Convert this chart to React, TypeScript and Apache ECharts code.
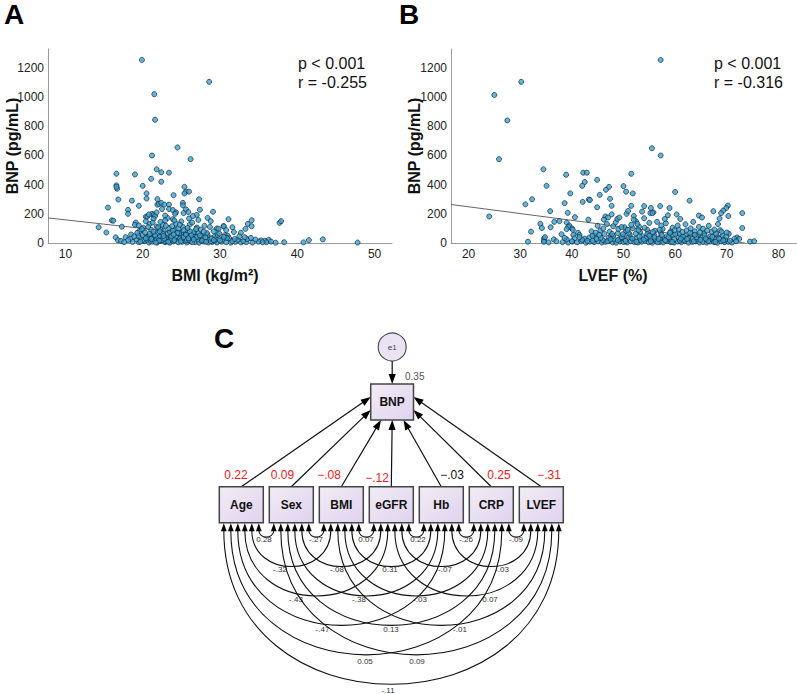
import React, { useEffect, useRef } from "react";
import * as echarts from "echarts";

// ---------- Panel A / B data ----------
const yTicks = [0, 200, 400, 600, 800, 1000, 1200];
const bmiTicks = [10, 20, 30, 40, 50];
const lvefTicks = [20, 30, 40, 50, 60, 70, 80];

const bmiBnpSparse: [number, number][] = [
  [19.9, 1255], [28.6, 1105], [21.5, 1020], [21.6, 845], [24.5, 655], [21.2, 600], [26.2, 575],
  [16.6, 475], [19.0, 470], [21.8, 505], [22.4, 485], [23.4, 482], [21.1, 440], [22.4, 420],
  [16.6, 395], [16.7, 372], [16.6, 385], [20.0, 392], [25.4, 385], [25.6, 352], [26.0, 352], [25.4, 340],
  [20.5, 340], [20.5, 305], [24.0, 328], [16.85, 298], [18.6, 290], [27.3, 300], [21.9, 301],
  [15.5, 243], [18.1, 227], [18.1, 200], [19.5, 255], [25.2, 275], [25.2, 258], [16.0, 155], [16.2, 153],
  [14.3, 108], [15.3, 72], [16.5, 39], [16.8, 19], [17.3, 112], [17.8, 40], [18.5, 58], [19.1, 140], [19.0, 125],
  [20.4, 180], [20.6, 180], [21.2, 200], [21.4, 192], [21.6, 185], [21.9, 263], [22.1, 268], [22.4, 275],
  [22.5, 233], [22.8, 263], [23.4, 263], [23.4, 233], [23.9, 226], [24.3, 210], [23.9, 163], [25.6, 230],
  [25.9, 212], [27.4, 228], [27.0, 192], [29.1, 214], [28.4, 172], [28.8, 150], [30.45, 115], [29.6, 100],
  [31.1, 163], [34.1, 156], [33.6, 131], [34.1, 115], [30.5, 115], [31.6, 108], [32.7, 70], [33.3, 97], [29.8, 97],
  [37.7, 138], [37.9, 150], [43.3, 25], [41.5, 20], [40.8, 4], [38.3, 5], [47.8, 3], [36.3, 22], [35.8, 15], [35.3, 18], [31.0, 50],
];
const bmiBnpDense: [number, number][] = [
  [18.7, 8], [19.5, 5], [20.2, 12], [20.8, 3], [21.3, 9], [21.9, 4], [22.4, 14], [22.9, 6], [23.5, 2], [24.0, 11],
  [24.6, 5], [25.1, 8], [25.7, 3], [26.2, 12], [26.8, 6], [27.3, 2], [27.9, 10], [28.5, 4], [29.0, 7], [29.6, 3],
  [30.2, 9], [30.8, 5], [31.4, 2], [32.0, 8], [32.7, 4], [33.4, 6], [34.2, 3], [35.0, 9], [36.0, 5], [37.2, 2],
  [17.2, 14], [21.0, 15], [23.0, 13], [25.5, 15], [27.6, 14], [29.3, 15],
  [18.4, 30], [19.2, 25], [19.8, 34], [20.5, 22], [21.2, 36], [21.8, 27], [22.5, 20], [23.1, 33], [23.8, 24], [24.4, 38],
  [25.0, 28], [25.7, 21], [26.4, 35], [27.1, 26], [27.8, 31], [28.6, 22], [29.4, 29], [30.3, 24], [31.2, 33], [32.3, 21],
  [33.5, 27], [34.6, 24], [22.0, 38], [24.8, 34], [26.9, 38],
  [19.4, 48], [20.0, 55], [20.7, 44], [21.5, 60], [22.2, 50], [22.9, 42], [23.6, 58], [24.3, 46], [25.1, 53], [25.9, 44],
  [26.7, 61], [27.6, 48], [28.4, 56], [29.3, 45], [30.6, 52], [23.2, 62], [25.4, 62], [21.0, 47],
  [19.6, 82], [20.3, 72], [21.1, 90], [21.9, 68], [22.7, 85], [23.5, 76], [24.2, 93], [25.0, 70], [25.8, 88], [26.6, 74],
  [27.5, 92], [28.3, 68], [29.2, 80], [31.8, 75], [22.3, 95], [24.7, 66], [26.1, 80],
  [19.5, 120], [20.1, 105], [20.9, 130], [21.8, 112], [22.6, 125], [23.4, 102], [24.3, 132], [25.2, 110], [26.1, 128],
  [27.0, 106], [28.0, 118], [23.0, 118], [25.8, 103],
  [20.4, 150], [21.4, 165], [22.3, 145], [23.2, 172], [24.1, 155], [25.0, 148], [26.0, 168], [27.2, 158],
  [20.8, 195], [21.8, 210], [22.9, 188], [24.2, 200], [25.3, 205], [26.5, 185],
];
const bmiBnpDense2: [number, number][] = [
  [20.0, 18], [20.6, 40], [21.1, 28], [21.6, 52], [22.1, 16], [22.6, 64], [23.0, 36], [23.3, 8], [23.7, 45], [24.1, 20],
  [24.5, 70], [24.9, 12], [25.3, 40], [25.6, 57], [26.0, 19], [26.4, 6], [26.8, 44], [27.2, 66], [27.7, 18], [28.1, 38],
  [28.8, 12], [29.7, 55], [30.0, 17], [30.9, 35], [31.6, 12], [32.5, 45], [33.0, 14], [34.0, 35], [35.5, 5], [36.6, 10],
  [19.9, 95], [20.9, 62], [21.4, 78], [22.0, 108], [22.8, 30], [23.9, 85], [24.6, 100], [25.3, 88], [26.3, 52], [27.0, 40],
  [27.9, 78], [28.9, 30], [29.9, 65], [30.8, 88], [19.7, 10], [20.4, 32], [21.7, 3], [22.7, 48], [24.0, 58], [25.9, 32],
  [26.6, 25], [27.4, 52], [28.2, 8], [29.2, 20], [30.5, 42], [31.9, 28], [33.2, 40], [22.2, 80], [23.8, 115], [21.3, 140],
  [24.8, 125], [26.9, 95], [20.7, 110], [22.9, 155], [28.7, 110], [19.3, 70], [18.9, 45], [18.1, 20], [17.6, 6], [26.4, 140],
];
const bmiFit: [number, number][] = [[7.75, 172], [36.9, 0]];

const lvefBnpSparse: [number, number][] = [
  [30.2, 1105], [25.0, 1015], [27.5, 840], [25.9, 575], [24.0, 182], [34.5, 505], [35.1, 392], [38.9, 468],
  [42.2, 482], [42.9, 482], [42.5, 418], [42.0, 392], [39.7, 340], [44.9, 433], [43.3, 298], [43.5, 295],
  [42.1, 282], [38.6, 273], [31.0, 265], [32.3, 300], [35.8, 218], [39.2, 207], [40.6, 177], [32.1, 78],
  [31.5, 9], [33.9, 131], [34.2, 103], [35.9, 108], [36.6, 145], [37.6, 150], [43.2, 160], [45.4, 330],
  [46.6, 365], [47.2, 385], [47.4, 303], [44.9, 245], [47.7, 255], [46.5, 182], [47.7, 196], [50.0, 390],
  [45.0, 118], [57.2, 1255], [55.5, 650], [57.2, 600], [51.5, 475], [50.5, 352], [51.8, 340], [60.0, 350],
  [62.8, 290], [51.5, 255], [54.0, 253], [55.3, 240], [57.1, 253], [58.9, 240], [60.3, 196], [64.6, 188],
  [65.2, 175], [67.4, 218], [70.2, 257], [69.9, 240], [69.3, 222], [68.9, 205], [68.6, 168], [68.3, 130],
  [70.3, 185], [73.0, 205], [73.0, 103], [72.0, 38], [72.4, 28], [74.5, 10], [75.3, 12],
  [39.0, 140], [39.5, 120], [40.0, 100], [40.2, 90], [39.3, 110], [34.6, 30], [34.6, 15],
  [34.8, 40], [36.5, 25], [38.0, 60], [39.0, 95], [40.3, 55], [41.2, 70], [42.5, 30], [43.8, 80], [44.5, 50],
];
const lvefBnpDense: [number, number][] = [
  [34.6, 8], [35.5, 4], [37.0, 12], [38.2, 6], [39.3, 3], [40.1, 10], [41.0, 5], [41.8, 14], [42.7, 2], [43.5, 9],
  [44.3, 6], [45.1, 11], [45.8, 3], [46.5, 8], [47.2, 13], [47.9, 5], [48.6, 2], [49.3, 10], [50.0, 7], [50.7, 4],
  [51.4, 12], [52.1, 6], [52.8, 3], [53.5, 9], [54.2, 15], [54.9, 5], [55.6, 2], [56.3, 11], [57.0, 7], [57.7, 4],
  [58.4, 13], [59.1, 6], [59.8, 3], [60.5, 10], [61.2, 5], [61.9, 14], [62.6, 2], [63.3, 8], [64.0, 12], [64.7, 4],
  [65.4, 7], [66.1, 3], [66.8, 10], [67.5, 6], [68.2, 2], [68.9, 11], [69.6, 5], [70.3, 8], [71.0, 3],
  [39.0, 25], [40.5, 32], [42.0, 22], [43.4, 38], [44.8, 28], [46.0, 20], [47.1, 35], [48.2, 26], [49.3, 31], [50.3, 23],
  [51.3, 39], [52.3, 27], [53.3, 21], [54.3, 34], [55.3, 29], [56.2, 24], [57.1, 37], [58.0, 22], [58.9, 30], [59.8, 26],
  [60.7, 36], [61.6, 21], [62.5, 33], [63.4, 28], [64.3, 24], [65.2, 38], [66.1, 23], [67.0, 31], [67.9, 27], [68.8, 35],
  [69.7, 22], [71.5, 30],
  [41.5, 55], [44.0, 48], [46.3, 62], [47.6, 50], [48.9, 68], [50.1, 45], [51.2, 58], [52.4, 65], [53.6, 47], [54.8, 60],
  [56.0, 52], [57.2, 70], [58.4, 46], [59.6, 57], [60.8, 64], [62.0, 49], [63.2, 61], [64.4, 53], [65.6, 67], [66.8, 46],
  [68.0, 58], [69.2, 50], [70.4, 63],
  [45.5, 85], [47.3, 78], [49.0, 95], [50.5, 82], [51.8, 100], [53.2, 76], [54.6, 90], [56.1, 84], [57.6, 97], [59.1, 79],
  [60.7, 92], [62.2, 86], [63.8, 80], [65.4, 98], [67.1, 77], [68.7, 88],
  [46.8, 130], [48.0, 115], [48.5, 142], [50.2, 108], [51.5, 125], [52.4, 150], [53.0, 112], [55.0, 138], [57.3, 120],
  [59.5, 105], [62.0, 128], [64.6, 110], [66.5, 118],
  [47.0, 175], [48.8, 165], [50.6, 200], [52.0, 185], [54.0, 170], [55.8, 210], [58.6, 190], [61.0, 165], [50.9, 220],
  [46.2, 160], [55.2, 205], [55.6, 205], [53.6, 215],
];
const lvefBnpDense2: [number, number][] = [
  [44.0, 15], [45.6, 35], [46.9, 12], [48.0, 48], [48.9, 20], [49.7, 40], [50.4, 14], [51.0, 70], [51.7, 30], [52.5, 8],
  [53.1, 45], [53.9, 24], [54.6, 62], [55.3, 12], [56.0, 38], [56.6, 5], [57.4, 55], [58.1, 18], [58.7, 40], [59.4, 8],
  [60.0, 62], [60.9, 16], [61.5, 44], [62.3, 27], [62.9, 70], [63.6, 12], [64.1, 40], [64.9, 22], [65.7, 52], [66.4, 14],
  [67.2, 42], [67.8, 8], [68.5, 30], [69.3, 18], [69.9, 45], [70.6, 16],
  [46.1, 100], [47.8, 62], [49.6, 110], [50.8, 90], [52.7, 130], [54.1, 105], [55.7, 75], [57.0, 90], [58.2, 135], [59.9, 88],
  [61.4, 75], [63.0, 100], [64.8, 72], [66.2, 85], [67.9, 65], [69.0, 78], [44.6, 70], [43.0, 15], [41.5, 40], [40.0, 12],
  [38.6, 35], [45.3, 55], [47.5, 25], [49.9, 60], [52.9, 88], [55.0, 50], [56.8, 28], [59.0, 70], [61.1, 30], [63.8, 56],
  [65.9, 30], [67.6, 92], [70.0, 72], [71.8, 12], [52.0, 160], [56.5, 145], [49.2, 175], [60.5, 120], [63.5, 145], [58.0, 165],
];
const lvefFit: [number, number][] = [[16.6, 264], [73.5, 0]];

const statsA = ["p < 0.001", "r = -0.255"];
const statsB = ["p < 0.001", "r = -0.316"];

// ---------- Panel C data ----------
const semVars = ["Age", "Sex", "BMI", "eGFR", "Hb", "CRP", "LVEF"];
const semPathCoef = ["0.22", "0.09", "\u2212.08", "\u2212.12", "\u2212.03", "0.25", "\u2212.31"];
const semPathSignificant = [true, true, true, true, false, true, true];
const semOutcome = "BNP";
const semError = "e1";
const semR2 = "0.35";
const semCov: [number, number, string][] = [
  [0, 1, "0.28"], [1, 2, "-.27"], [2, 3, "0.07"], [3, 4, "0.22"], [4, 5, "-.26"], [5, 6, "-.09"],
  [0, 2, "-.32"], [1, 3, "-.08"], [2, 4, "0.31"], [3, 5, "-.07"], [4, 6, "-.03"],
  [0, 3, "-.43"], [1, 4, "-.38"], [2, 5, "-.03"], [3, 6, "0.07"],
  [0, 4, "-.47"], [1, 5, "0.13"], [2, 6, "-.01"],
  [0, 5, "0.05"], [1, 6, "0.09"],
  [0, 6, "-.11"],
];

// ---------- Panel C layout (positions only) ----------
const BOX_X0 = 219.3;
const BOX_PITCH = 50;
const BOX_W = 44;
const BOX_TOP = 486.7;
const BOX_H = 36;
const BNP_BOX = { x: 370.7, y: 384, w: 42.8, h: 36 };
const E1 = { cx: 392.2, cy: 347, r: 14 };
const pathTips: [number, number][] = [
  [370.7, 397], [370.7, 410], [381, 420], [392.2, 420], [403.5, 420], [413.5, 410], [413.5, 397],
];
const pathLabelPos: [number, number][] = [
  [236, 474.5], [282.5, 474.5], [329, 474.5], [377, 478], [452, 474.5], [499, 474.5], [549, 474.5],
];
const covLabelPos: [number, number][] = [
  [264, 539.5], [316, 539.5], [366, 539.5], [418, 539.5], [466, 539.5], [516, 539.5],
  [280, 569.5], [337, 569.5], [390, 569.5], [445, 569.5], [502, 569.5],
  [296, 599.5], [359, 599.5], [420, 599.5], [490, 599.5],
  [322.5, 629.5], [391, 629.5], [460, 629.5],
  [365, 661], [417, 661],
  [388, 690],
];

const FONT = 'Arial, "Liberation Sans", Helvetica, sans-serif';

function txt(x: number, y: number, text: string, font: string, fill: string, align = "center", rotation = 0): any {
  return {
    type: "text",
    x,
    y,
    rotation,
    silent: true,
    style: {
      text,
      font,
      fill,
      textAlign: align,
      textVerticalAlign: "middle",
      align,
      verticalAlign: "middle",
    },
  };
}

function arrowHead(tipX: number, tipY: number, fromX: number, fromY: number, len: number, hw: number): any {
  const dx = tipX - fromX;
  const dy = tipY - fromY;
  const d = Math.hypot(dx, dy);
  const ux = dx / d;
  const uy = dy / d;
  const bx = tipX - ux * len;
  const by = tipY - uy * len;
  return {
    type: "polygon",
    silent: true,
    shape: { points: [[tipX, tipY], [bx - uy * hw, by + ux * hw], [bx + uy * hw, by - ux * hw]] },
    style: { fill: "#000" },
  };
}

function buildDiagram(): any[] {
  const els: any[] = [];
  const boxFill = new echarts.graphic.LinearGradient(0, 0, 1, 1, [
    { offset: 0, color: "#f1ecf5" },
    { offset: 1, color: "#e0d3ee" },
  ]);
  // structural paths
  semVars.forEach((_, i) => {
    const sx = BOX_X0 + i * BOX_PITCH + BOX_W / 2;
    const sy = BOX_TOP;
    const [tx, ty] = pathTips[i];
    const dx = tx - sx, dy = ty - sy;
    const d = Math.hypot(dx, dy);
    els.push({
      type: "line",
      silent: true,
      shape: { x1: sx, y1: sy, x2: tx - (dx / d) * 8, y2: ty - (dy / d) * 8 },
      style: { stroke: "#111", lineWidth: 1.2 },
    });
    els.push(arrowHead(tx, ty, sx, sy, 10, 3.6));
    els.push(
      txt(pathLabelPos[i][0], pathLabelPos[i][1], semPathCoef[i], `12px ${FONT}`, semPathSignificant[i] ? "#ee1b22" : "#111")
    );
  });
  // e1 -> BNP
  els.push({
    type: "line",
    silent: true,
    shape: { x1: E1.cx, y1: E1.cy + E1.r, x2: E1.cx, y2: BNP_BOX.y - 8 },
    style: { stroke: "#111", lineWidth: 1.2 },
  });
  els.push(arrowHead(E1.cx, BNP_BOX.y, E1.cx, E1.cy, 10, 3.6));
  els.push({
    type: "circle",
    silent: true,
    shape: { cx: E1.cx, cy: E1.cy, r: E1.r },
    style: { fill: "#ebe3f3", stroke: "#444", lineWidth: 1.1 },
  });
  els.push(txt(E1.cx, E1.cy, semError, `8px ${FONT}`, "#444"));
  els.push(txt(405, BNP_BOX.y - 8, semR2, `10px ${FONT}`, "#555", "left"));
  // BNP box
  els.push({
    type: "rect",
    silent: true,
    shape: { x: BNP_BOX.x, y: BNP_BOX.y, width: BNP_BOX.w, height: BNP_BOX.h },
    style: { fill: boxFill, stroke: "#444", lineWidth: 1.5 },
  });
  els.push(txt(BNP_BOX.x + BNP_BOX.w / 2, BNP_BOX.y + BNP_BOX.h / 2, semOutcome, `bold 12px ${FONT}`, "#111"));
  // predictor boxes
  semVars.forEach((v, i) => {
    const x = BOX_X0 + i * BOX_PITCH;
    els.push({
      type: "rect",
      silent: true,
      shape: { x, y: BOX_TOP, width: BOX_W, height: BOX_H },
      style: { fill: boxFill, stroke: "#444", lineWidth: 1.5 },
    });
    els.push(txt(x + BOX_W / 2, BOX_TOP + BOX_H / 2, v, `bold 12px ${FONT}`, "#111"));
  });
  // covariance arcs
  const n = semVars.length;
  const slotX = (i: number, j: number) => {
    const k = j < i ? i - j - 1 : i + (n - 1) - j;
    return BOX_X0 + i * BOX_PITCH + 4.5 + 7 * k;
  };
  const boxBottom = BOX_TOP + BOX_H;
  const arcY = boxBottom + 7.5;
  semCov.forEach(([i, j, label], idx) => {
    const xa = slotX(i, j);
    const xb = slotX(j, i);
    const hw = (xb - xa) / 2;
    const depth = 0.92 * hw;
    const cy = arcY + (4 / 3) * depth;
    els.push({
      type: "bezierCurve",
      silent: true,
      shape: { x1: xa, y1: arcY, x2: xb, y2: arcY, cpx1: xa, cpy1: cy, cpx2: xb, cpy2: cy },
      style: { stroke: "#111", lineWidth: 1.1, fill: "none" },
    });
    [xa, xb].forEach((x) => {
      els.push({
        type: "polygon",
        silent: true,
        shape: { points: [[x, boxBottom + 0.5], [x - 2.9, arcY + 1], [x + 2.9, arcY + 1]] },
        style: { fill: "#000" },
      });
    });
    const [lx, ly] = covLabelPos[idx];
    els.push(txt(lx, ly, label, `8px ${FONT}`, "#333"));
  });
  return els;
}

export default function App() {
  const ref = useRef<HTMLDivElement>(null);
  useEffect(() => {
    if (!ref.current) return;
    const chart = echarts.init(ref.current, undefined, { renderer: "svg" });
    const axisLabel = (vals: number[]) => ({
      customValues: vals,
      fontSize: 12,
      color: "#222",
      fontFamily: FONT,
      margin: 5,
      formatter: (v: number) => String(v),
    });
    const axisLine = { show: true, lineStyle: { color: "#9a9a9a", width: 1 } };
    const pointStyle = { color: "#3ba4d2", borderColor: "#14293a", borderWidth: 0.9 };
    const scatter = (data: [number, number][], k: number) => ({
      type: "scatter",
      xAxisIndex: k,
      yAxisIndex: k,
      data,
      symbolSize: 5,
      itemStyle: pointStyle,
      silent: true,
      z: 3,
    });
    const fit = (data: [number, number][], k: number) => ({
      type: "line",
      xAxisIndex: k,
      yAxisIndex: k,
      data,
      showSymbol: false,
      symbol: "none",
      lineStyle: { color: "#555", width: 0.9 },
      silent: true,
      z: 2,
    });
    const option: any = {
      animation: false,
      backgroundColor: "#ffffff",
      grid: [
        { left: 48, top: 49, width: 344, height: 194 },
        { left: 451, top: 49, width: 345.5, height: 194 },
      ],
      xAxis: [
        {
          type: "value", gridIndex: 0, min: 7.75, max: 52.25,
          axisLine, axisTick: { show: false }, splitLine: { show: false },
          axisLabel: axisLabel(bmiTicks),
        },
        {
          type: "value", gridIndex: 1, min: 16.6, max: 83.5,
          axisLine, axisTick: { show: false }, splitLine: { show: false },
          axisLabel: axisLabel(lvefTicks),
        },
      ],
      yAxis: [
        {
          type: "value", gridIndex: 0, min: 0, max: 1330,
          axisLine, axisTick: { show: false }, splitLine: { show: false },
          axisLabel: { ...axisLabel(yTicks), margin: 4 },
        },
        {
          type: "value", gridIndex: 1, min: 0, max: 1330,
          axisLine, axisTick: { show: false }, splitLine: { show: false },
          axisLabel: { ...axisLabel(yTicks), margin: 4 },
        },
      ],
      series: [
        fit(bmiFit, 0),
        scatter(bmiBnpSparse, 0),
        scatter(bmiBnpDense, 0),
        scatter(bmiBnpDense2, 0),
        fit(lvefFit, 1),
        scatter(lvefBnpSparse, 1),
        scatter(lvefBnpDense, 1),
        scatter(lvefBnpDense2, 1),
      ],
      graphic: [
        txt(14, 14, "A", `bold 28px ${FONT}`, "#000"),
        txt(409, 14, "B", `bold 28px ${FONT}`, "#000"),
        txt(224, 338, "C", `bold 28px ${FONT}`, "#000"),
        txt(12, 146, "BNP (pg/mL)", `bold 16px ${FONT}`, "#111", "center", Math.PI / 2),
        txt(414, 146, "BNP (pg/mL)", `bold 16px ${FONT}`, "#111", "center", Math.PI / 2),
        txt(215, 275, "BMI (kg/m\u00B2)", `bold 16px ${FONT}`, "#111"),
        txt(613, 275, "LVEF (%)", `bold 16px ${FONT}`, "#111"),
        txt(298, 63, statsA[0], `16px ${FONT}`, "#111", "left"),
        txt(298, 82, statsA[1], `16px ${FONT}`, "#111", "left"),
        txt(714, 63, statsB[0], `16px ${FONT}`, "#111", "left"),
        txt(714, 82, statsB[1], `16px ${FONT}`, "#111", "left"),
        ...buildDiagram(),
      ],
    };
    chart.setOption(option);
    return () => chart.dispose();
  }, []);
  return (
    <div
      ref={ref}
      style={{ position: "absolute", left: 0, top: 0, width: 797, height: 694, background: "#fff" }}
    />
  );
}
